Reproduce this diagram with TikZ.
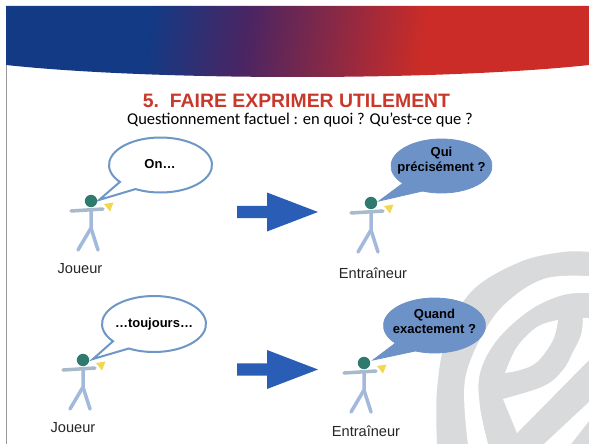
\documentclass[tikz,border=0pt]{standalone}
\usepackage{fontspec}
\setmainfont{Liberation Sans}
\newfontfamily\calib{Carlito}
\usetikzlibrary{calc}
\definecolor{wm}{HTML}{D9DADB}
\definecolor{armc}{HTML}{A9B9CC}
\definecolor{bodyc}{HTML}{A3B9DC}
\definecolor{headc}{HTML}{2F7A6F}
\definecolor{conec}{HTML}{F2D84B}
\definecolor{arrowc}{HTML}{2A5EB6}
\definecolor{bubblec}{HTML}{6C92C8}
\definecolor{bubbleline}{HTML}{6E97C6}
\definecolor{titlec}{HTML}{C8392B}
\definecolor{bannerblue}{HTML}{123A85}
\definecolor{bannerpurple}{HTML}{4A2562}
\definecolor{bannerred}{HTML}{CB2C27}
\pgfdeclarehorizontalshading{bannershade}{100bp}{
  color(0bp)=(bannerblue);
  color(35.5bp)=(bannerblue);
  color(45bp)=(bannerpurple);
  color(62bp)=(bannerred);
  color(100bp)=(bannerred)}
\tikzset{
  person limb/.style={line width=3.5pt,line cap=round},
  outline bubble/.style={draw=bubbleline,line width=2pt,fill=white,line join=miter},
  solid bubble/.style={draw=bubblec,line width=.8pt,fill=bubblec,line join=miter},
  bubble text/.style={font=\bfseries\fontsize{13}{15}\selectfont,align=center,text=black,inner sep=0pt},
  caption/.style={font=\fontsize{14.6}{17}\selectfont,inner sep=0pt,text=black!85},
  big arrow/.style={fill=arrowc},
  wmark/.style={fill=wm},
  wmark cut/.style={fill=white}
}
\newcommand{\stickman}[2]{%
  \begin{scope}[shift={(#1,#2)}]
    \draw[person limb,bodyc,line join=round] (0,9) -- (0,27) -- (-13,49);
    \draw[person limb,bodyc] (0,27) -- (7,49);
    \draw[person limb,armc] (-20,10) -- (12,8);
    \fill[headc] (0,0) circle [radius=6.2];
    \fill[conec] (13,3) -- (22.5,1.5) -- (19,10.5) -- cycle;
  \end{scope}}
\newcommand{\speech}[8]{% style, cx, cy, rx, ry, a1, a2, tip
  \draw[#1] #8 -- ($(#2,#3)+(#6:#4 and #5)$) arc [start angle=#6,end angle=#7,x radius=#4,y radius=#5] -- cycle;}
\newcommand{\bigarrow}[1]{%
  \fill[big arrow,shift={(0,#1)}] (237,-6.2) -- (267,-6.2) -- (267,-19.5) -- (318,0) -- (267,19.5) -- (267,6.2) -- (237,6.2) -- cycle;}
\begin{document}
\begin{tikzpicture}[x=1pt,y=-1pt]
\useasboundingbox (0,0) rectangle (589,444);
\fill[white] (0,0) rectangle (589,444);
\begin{scope}
\clip (0,0) rectangle (589,444);
% watermark
\fill[wmark] plot[smooth,tension=.6] coordinates {(437,444) (437,390) (447,335) (473,290) (520,262) (563,252) (589,252)} -- (589,444) -- cycle;
\fill[wmark cut] plot[smooth,tension=.6] coordinates {(589,276) (547,278) (513,297) (487,327) (465,380) (468,444)} -- plot[smooth,tension=.6] coordinates {(488,444) (480,407) (480,373) (497,340) (530,310) (563,295) (589,293)} -- cycle;
\fill[wmark cut] plot[smooth,tension=.6] coordinates {(505,373) (517,347) (537,327) (558,320)} -- plot[smooth,tension=.6] coordinates {(558,320) (553,340) (537,362) (520,370) (505,373)} -- cycle;
\fill[wmark cut] plot[smooth,tension=.6] coordinates {(503,399) (544,386) (563,370) (573,352) (581,335) (583,318)} -- (589,318) -- (589,360) -- (517,433) -- cycle;
\fill[wmark cut] (544,444) -- (571,444) -- (589,421) -- (589,402) -- cycle;
\end{scope}
% banner
\shade[shading=bannershade,shading angle=-8] (6,6) -- (589,6) -- (589,65) .. controls (440,81) and (155,81) .. (6,65) -- cycle;
\draw[gray!80,line width=1pt] (6,65) -- (6,444);
% titles
\node[font=\bfseries\fontsize{19.4}{22}\selectfont,text=titlec,inner sep=0pt] (title) at (296.5,101) {5.\ \ FAIRE EXPRIMER UTILEMENT};
\node[font=\calib\fontsize{16.5}{20}\selectfont,inner sep=0pt] (subtitle) at (300,120) {Questionnement factuel : en quoi ? Qu’est-ce que ?};
% people and bubbles
\speech{outline bubble}{160.5}{165}{51.5}{27.5}{142}{479}{(99,200)}
\stickman{91}{201}
\node[bubble text] (t1) at (160,164) {On…};
\node[caption] (c1) at (80,269) {Joueur};
\speech{solid bubble}{441.5}{166}{50.5}{27}{140}{472}{(379,201)}
\stickman{371}{203}
\node[bubble text] (t2) at (441.5,160.5) {Qui\\précisément ?};
\node[caption] (c2) at (373,273) {Entraîneur};
\speech{outline bubble}{154}{324}{52}{28}{142}{479}{(93,359)}
\stickman{83}{360}
\node[bubble text] (t3) at (154,324) {…toujours…};
\node[caption] (c3) at (73,428) {Joueur};
\speech{solid bubble}{434.5}{325.5}{51}{27.5}{140}{472}{(373,360)}
\stickman{364}{363}
\node[bubble text] (t4) at (434.5,321.5) {Quand\\exactement ?};
\node[caption] (c4) at (366,431) {Entraîneur};
\bigarrow{212}
\bigarrow{369.5}
\end{tikzpicture}
\end{document}
